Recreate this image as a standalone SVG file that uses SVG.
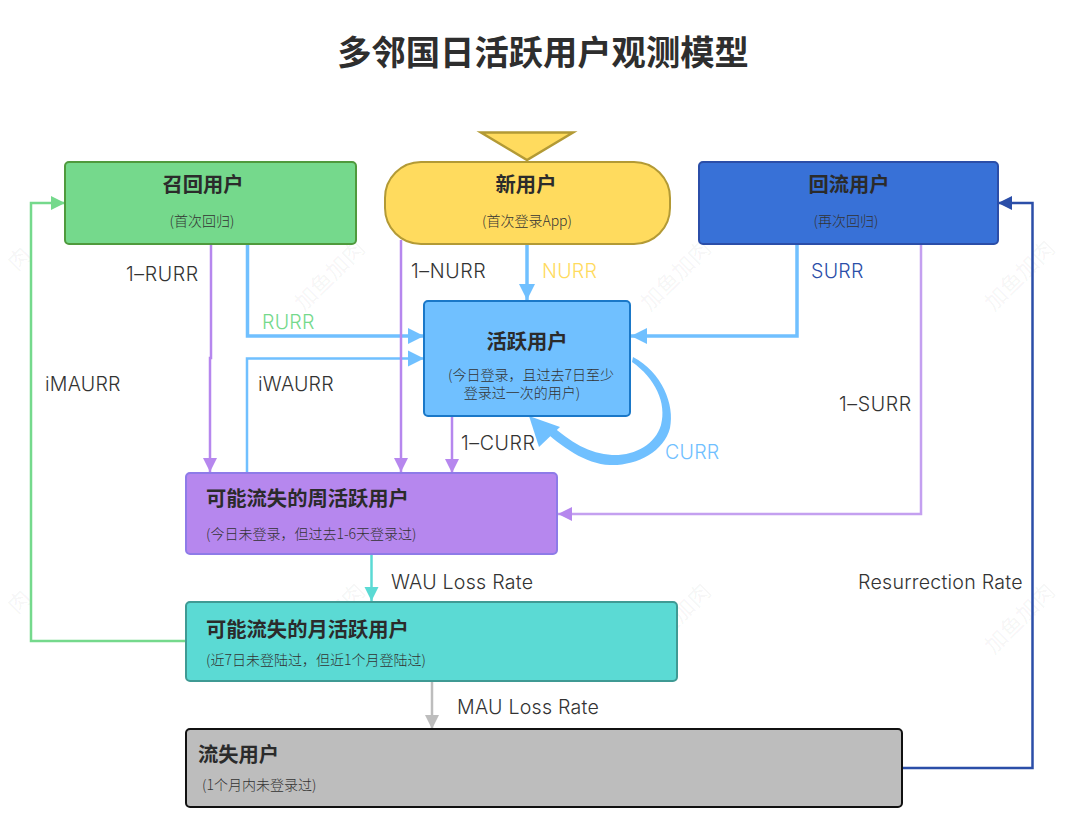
<svg xmlns="http://www.w3.org/2000/svg" width="1080" height="836" viewBox="0 0 1080 836">
<style>
text{font-family:"Noto Sans CJK SC",sans-serif;fill:#333}
.t{font-weight:700;font-size:20.300px;fill:#2b2b2b}
.s{font-size:14px;font-weight:300;fill:#333}
.l{font-family:"Inter","Noto Sans CJK SC",sans-serif;font-size:19.600px;font-weight:300;fill:#333;letter-spacing:.25px}
.d{letter-spacing:.6px}
.m{text-anchor:middle}
.wm{font-size:22px;fill:#000;fill-opacity:.05}
.w{fill:none;stroke-width:2.500px}
</style>
<defs>
<marker id="aP" markerUnits="userSpaceOnUse" markerWidth="16" markerHeight="16" refX="14" refY="8" orient="auto"><path d="M0 1L14 8L0 15Z" fill="#b687ee"/></marker>
<marker id="aB" markerUnits="userSpaceOnUse" markerWidth="18" markerHeight="18" refX="16" refY="9" orient="auto"><path d="M0 1L16 9L0 17Z" fill="#70c0ff"/></marker>
<marker id="aG" markerUnits="userSpaceOnUse" markerWidth="16" markerHeight="16" refX="14" refY="8" orient="auto"><path d="M0 1L14 8L0 15Z" fill="#75d98c"/></marker>
<marker id="aT" markerUnits="userSpaceOnUse" markerWidth="16" markerHeight="16" refX="14" refY="8" orient="auto"><path d="M0 1L14 8L0 15Z" fill="#5bdad4"/></marker>
<marker id="aY" markerUnits="userSpaceOnUse" markerWidth="16" markerHeight="16" refX="14" refY="8" orient="auto"><path d="M0 1L14 8L0 15Z" fill="#bdbdbd"/></marker>
<marker id="aN" markerUnits="userSpaceOnUse" markerWidth="16" markerHeight="16" refX="14" refY="8" orient="auto"><path d="M0 1L14 8L0 15Z" fill="#2b4ea8"/></marker>
</defs>
<rect width="1080" height="836" fill="#fff"/>
<g id="watermarks">
<text class="wm" transform="translate(304 312) rotate(-45)">加鱼加肉</text>
<text class="wm" transform="translate(650 312) rotate(-45)">加鱼加肉</text>
<text class="wm" transform="translate(994 312) rotate(-45)">加鱼加肉</text>
<text class="wm" transform="translate(17 272) rotate(-45)">肉</text>
<text class="wm" transform="translate(304 655) rotate(-45)">加鱼加肉</text>
<text class="wm" transform="translate(650 655) rotate(-45)">加鱼加肉</text>
<text class="wm" transform="translate(994 655) rotate(-45)">加鱼加肉</text>
<text class="wm" transform="translate(17 615) rotate(-45)">肉</text>
</g>
<text id="title" x="543" y="65" class="m" style="font-weight:700;font-size:34.300px;fill:#2e2e2e">多邻国日活跃用户观测模型</text>
<g id="connectors">
<path d="M211 244V358H210V472" class="w" stroke="#b687ee" marker-end="url(#aP)"/>
<path d="M247.500 244V336H424" class="w" style="stroke-width:3.500px" stroke="#70c0ff" marker-end="url(#aB)"/>
<path d="M247 473V358.500H424" class="w" stroke="#70c0ff" marker-end="url(#aB)"/>
<path d="M401 240V472" class="w" stroke="#b687ee" marker-end="url(#aP)"/>
<path d="M527 244V300" class="w" style="stroke-width:3.500px" stroke="#70c0ff" marker-end="url(#aB)"/>
<path d="M797 244V336H631" class="w" style="stroke-width:3.500px" stroke="#70c0ff" marker-end="url(#aB)"/>
<path d="M452 416V473" class="w" stroke="#b687ee" marker-end="url(#aP)"/>
<path d="M921 244V514H558" class="w" stroke="#c4a0f0" marker-end="url(#aP)"/>
<path d="M633 357C662 372 675 405 670 428C664 452 636 466 610 465C585 464 562 447 541 428L550 424C570 442 590 454 612 455C634 456 655 445 661 425C667 403 655 378 632 362Z" fill="#70c0ff"/>
<path d="M529 416L560 427L539 447Z" fill="#70c0ff"/>
<path d="M371.500 555V601" class="w" stroke="#5bdad4" marker-end="url(#aT)"/>
<path d="M186 641H31V203H65" class="w" stroke="#75d98c" marker-end="url(#aG)"/>
<path d="M432 682V729" class="w" stroke="#bdbdbd" marker-end="url(#aY)"/>
<path d="M903 768H1032.500V203H998" class="w" stroke="#2b4ea8" marker-end="url(#aN)"/>
</g>
<g id="start"><path d="M481 132.500H573L527 160Z" fill="#ffdb5e" stroke="#b39a35" stroke-width="2.500"/></g>
<g id="recall"><rect x="65" y="162" width="291" height="82" rx="4" fill="#75d98c" stroke="#4f9a3d" stroke-width="2"/>
<text class="t m" x="203" y="192">召回用户</text><text class="s m" x="202" y="226">(首次回归)</text></g>
<g id="new"><rect x="385" y="162" width="285" height="82" rx="36" fill="#ffdb5e" stroke="#b39a35" stroke-width="2"/>
<text class="t m" x="526" y="192">新用户</text><text class="s m" x="527" y="226">(首次登录App)</text></g>
<g id="back"><rect x="699" y="162" width="299" height="82" rx="4" fill="#3871d7" stroke="#2b4ea8" stroke-width="2"/>
<text class="t m" x="849" y="192">回流用户</text><text class="s m" x="846" y="226">(再次回归)</text></g>
<g id="active"><rect x="424" y="301" width="206" height="115" rx="4" fill="#70c0ff" stroke="#1a78c8" stroke-width="2"/>
<text class="t m" x="527" y="349">活跃用户</text><text class="s m" x="531" y="380">(今日登录，且过去7日至少</text><text class="s m" x="522" y="398">登录过一次的用户)</text></g>
<g id="weekly"><rect x="186" y="473" width="371" height="81" rx="4" fill="#b687ee" stroke="#8e7be8" stroke-width="2"/>
<text class="t" x="206" y="506">可能流失的周活跃用户</text><text class="s" x="206" y="539">(今日未登录，但过去1-6天登录过)</text></g>
<g id="monthly"><rect x="186" y="602" width="491" height="79" rx="4" fill="#5bdad4" stroke="#3f9a94" stroke-width="2"/>
<text class="t" x="206" y="637">可能流失的月活跃用户</text><text class="s" x="206" y="665">(近7日未登陆过，但近1个月登陆过)</text></g>
<g id="lost"><rect x="186" y="729" width="716" height="78" rx="4" fill="#bdbdbd" stroke="#111" stroke-width="2"/>
<text class="t" x="198" y="762">流失用户</text><text class="s" x="202" y="790">(1个月内未登录过)</text></g>
<g id="labels">
<text class="l d" x="126" y="281">1–RURR</text>
<text class="l d" x="411" y="278">1–NURR</text>
<text class="l" x="542" y="278" style="fill:#ffdb5e">NURR</text>
<text class="l" x="811" y="278" style="fill:#2b4ea8">SURR</text>
<text class="l" x="262" y="329" style="fill:#75d98c">RURR</text>
<text class="l" x="45" y="391">iMAURR</text>
<text class="l" x="258" y="391">iWAURR</text>
<text class="l d" x="839" y="411">1–SURR</text>
<text class="l d" x="461" y="450">1–CURR</text>
<text class="l" x="665" y="459" style="fill:#70c0ff">CURR</text>
<text class="l" x="391" y="589">WAU Loss Rate</text>
<text class="l" x="858" y="589">Resurrection Rate</text>
<text class="l" x="457" y="714">MAU Loss Rate</text>
</g>
</svg>
